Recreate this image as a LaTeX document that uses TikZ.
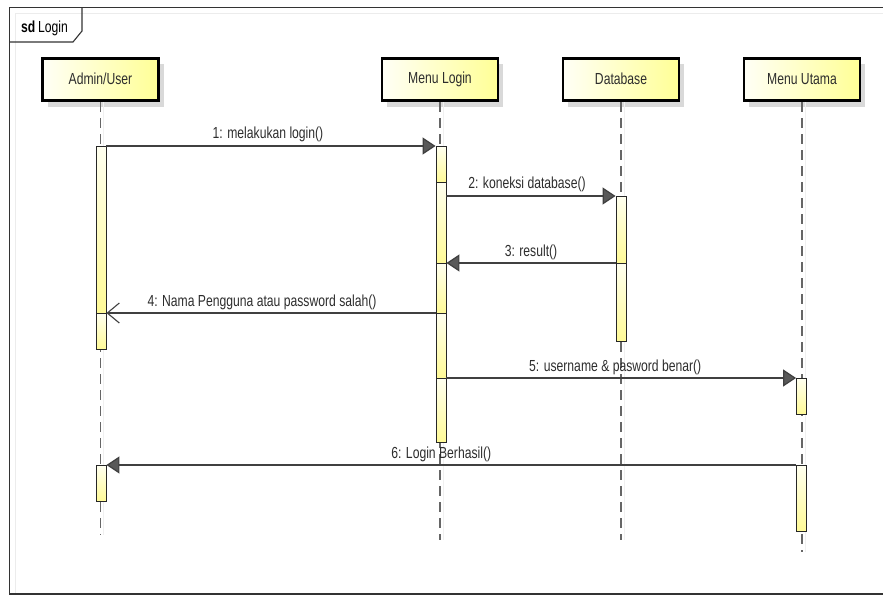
\documentclass[tikz,border=0pt]{standalone}
\usepackage{fontspec}
\setmainfont{Liberation Sans}[FakeStretch=0.76]
\usetikzlibrary{arrows.meta,shadows}

\definecolor{boxleft}{RGB}{255,255,246}
\definecolor{boxright}{RGB}{255,255,150}
\definecolor{bartop}{RGB}{255,255,240}
\definecolor{barbot}{RGB}{255,250,150}
\definecolor{inkgray}{RGB}{45,45,45}

% one activation segment: name, x, top y, bottom y
\newcommand{\actseg}[4]{%
  \node[actbar, minimum height={(#4-#3)*1pt}, anchor=north] (#1) at (#2,#3) {};}

\begin{document}
\begin{tikzpicture}[x=1pt, y=-1pt,
  font=\fontsize{16}{18}\selectfont,
  participant/.style={draw=black, line width=2.6pt, minimum width=116pt,
    minimum height=42.5pt, inner sep=0pt, left color=boxleft, right color=boxright,
    drop shadow={fill=gray!30, opacity=1, shadow xshift=5pt, shadow yshift=-6pt},
    text=inkgray},
  lifeline/.style={draw=black!60, line width=1.2pt, dash pattern=on 10pt off 6pt},
  lifeshade/.style={draw=gray!12, line width=1pt},
  actbar/.style={draw=black!85, line width=0.9pt, minimum width=10pt, inner sep=0pt,
    top color=bartop, bottom color=barbot},
  call/.style={draw=black!75, line width=1.2pt,
    -{Triangle[length=13pt, width=17pt, fill=black!65]}},
  reply/.style={draw=black!75, line width=1.2pt,
    -{Straight Barb[length=12pt, width=20pt, line width=1.1pt]}},
  msglabel/.style={midway, anchor=base, yshift=7pt, inner sep=0pt, text=inkgray}
]
\useasboundingbox (0,0) rectangle (883,596);

% frame with its faint inner shadow
\draw[gray!15, line width=1pt] (884,14) -- (15.5,14) -- (15.5,594);
\draw[black!80, line width=1.3pt] (884,7.5) -- (9.5,7.5) -- (9.5,594) -- (884,594);
\draw[black!80, line width=1.1pt] (9.5,42) -- (73,42) -- (82,31) -- (82,7.5);
\node[anchor=base west, inner sep=0pt, text=black] (title) at (21,33)
  {\textbf{sd}\,Login};

% participants
\node[participant] (adm) at (100.5,79.5) {\raisebox{2pt}{Admin/User}};
\node[participant] (ml)  at (440,79.5)   {\raisebox{2pt}{Menu Login}};
\node[participant] (db)  at (621,79.5)   {\raisebox{2pt}{Database}};
\node[participant] (mu)  at (802,79.5)   {\raisebox{2pt}{Menu Utama}};

% lifeline ends
\coordinate (admEnd) at (100.5,535);
\coordinate (mlEnd)  at (440,540);
\coordinate (dbEnd)  at (621,540);
\coordinate (muEnd)  at (802,552);

% lifelines
\foreach \p in {adm,ml,db,mu} {
  \draw[lifeshade] ([xshift=3pt]\p.south) -- ([xshift=3pt]\p End);
  \draw[lifeline] (\p.south) -- (\p End);
}

% activation segments
\actseg{adm1}{101}{146}{313}
\actseg{adm2}{101}{313}{349}
\actseg{adm3}{101}{465}{501}
\actseg{ml1}{441}{146}{182}
\actseg{ml2}{441}{182}{263}
\actseg{ml3}{441}{263}{313}
\actseg{ml4}{441}{313}{378}
\actseg{ml5}{441}{378}{442}
\actseg{db1}{621}{196}{263}
\actseg{db2}{621}{263}{341}
\actseg{mu1}{801.5}{378}{414}
\actseg{mu2}{801.5}{465}{531}

% messages
\draw[call] (adm1.north east) -- (ml1.north west)
  node[msglabel, xshift=-3pt] {1: melakukan login()};
\draw[call] (ml2.east |- db1.north) -- (db1.north west)
  node[msglabel, xshift=-4pt] {2: koneksi database()};
\draw[call] (db2.north west) -- (ml3.north east)
  node[msglabel] {3: result()};
\draw[reply] (ml4.north west) -- (adm2.north east)
  node[msglabel, xshift=-9pt] {4: Nama Pengguna atau password salah()};
\draw[call] (ml5.north east) -- (mu1.north west)
  node[msglabel, xshift=-6pt] {5: username \& pasword benar()};
\draw[call] (mu2.north west) -- (adm3.north east)
  node[msglabel, xshift=-10pt] {6: Login Berhasil()};
\end{tikzpicture}
\end{document}
